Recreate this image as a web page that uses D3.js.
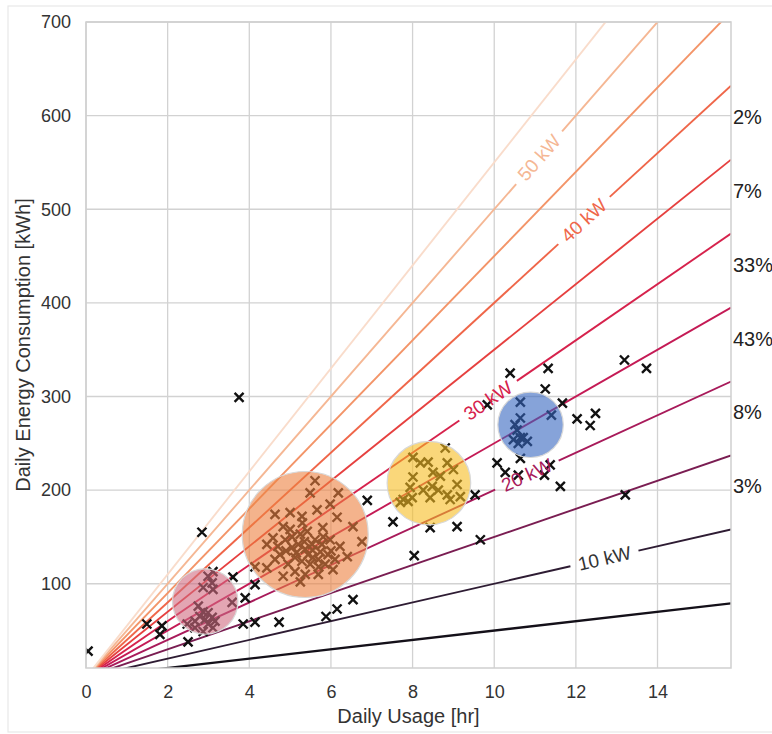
<!DOCTYPE html>
<html><head><meta charset="utf-8">
<script src="https://cdn.jsdelivr.net/npm/d3@7"></script>
<style>body{margin:0;background:#fff} svg{display:block}</style>
</head><body>
<script>
// ---- data ----
const powerLevels = [5,10,15,20,25,30,35,40,45,50,55];
const lineColors  = ["#141019","#2e1c33","#7a1d52","#a81a5a","#c41a55","#d6224c","#e6403f","#ef6649","#f39468","#f5b794","#f9dccb"];
const labeledLevels = [10,20,30,40,50];
const labelHours    = [12.7,10.8,9.85,12.2,11.1];
const shareLabels = ["2%","7%","33%","43%","8%","3%"];
const shareBands  = [[35,40],[30,35],[25,30],[20,25],[15,20],[10,15]];
const xTicks = [0,2,4,6,8,10,12,14];
const yTicks = [100,200,300,400,500,600,700];

const usage = [
 0.05,1.49,1.86,1.81,2.50,2.84,3.75,3.60,3.90,3.85,4.14,4.14,4.73,5.88,6.15,6.54,6.89,7.52,8.04,8.43,9.09,9.53,9.66,10.07,10.27,10.59,10.64,11.23,11.37,11.62,13.21,10.39,11.32,13.19,13.73,9.83,11.25,11.67,12.03,12.48,12.35,
 2.99,3.09,2.87,3.11,3.58,2.75,2.87,2.99,2.79,3.09,2.92,2.67,2.99,2.48,2.67,3.11,2.87,3.16,3.11,
 5.61,6.18,5.49,4.63,5.00,5.29,5.66,5.98,6.15,6.54,6.76,4.58,4.43,4.83,5.42,5.81,6.22,6.40,4.14,4.43,4.83,5.25,5.69,6.05,5.56,4.88,5.05,5.20,5.37,5.54,5.74,5.93,5.12,5.29,5.49,5.69,5.86,4.95,4.75,5.25,5.61,5.98,5.00,4.63,6.10,5.37,5.12,5.78,5.44,5.15,5.55,5.35,5.70,5.05,4.90,5.80,5.30,4.70,6.00,
 8.80,8.01,8.19,8.38,8.85,8.50,8.68,9.00,8.48,8.63,7.94,8.26,9.09,8.85,8.92,7.77,7.89,7.70,7.99,9.17,8.43,8.01,
 10.64,10.64,11.40,10.56,10.64,10.47,10.71,10.81,10.59,10.51
];
const energy = [
 28,57,55,46,38,155,299,107,85,57,59,99,59,65,73,83,189,166,130,160,161,195,147,229,219,216,234,216,227,204,195,325,330,339,330,291,308,293,276,282,269,
 108,101,96,94,80,76,70,69,65,64,62,60,57,57,53,53,49,60,113,
 210,197,197,174,176,172,179,185,171,161,145,149,142,161,156,150,140,129,118,117,108,102,110,115,128,147,139,142,137,142,134,131,128,124,121,126,121,121,131,153,147,147,158,126,126,110,113,142,131,133,136,145,118,150,135,160,165,140,135,
 245,235,229,230,229,219,215,222,204,200,203,200,206,195,190,190,188,187,192,193,192,214,
 294,277,280,264,256,254,256,252,250,270
];

const clusterUsage  = [2.92,5.37,8.40,10.89];
const clusterEnergy = [81,152.6,207.5,269.8];
const clusterWeight = [27,100,44,27];
const clusterColors = ["#d06a80","#ec8040","#f7bd22","#3566c0"];

// ---- layout ----
const W = 772, H = 734;
const font = "'Liberation Sans', Arial, sans-serif";
const svg = d3.select("body").append("svg").attr("width", W).attr("height", H);

svg.append("rect").attr("x",8).attr("y",6).attr("width",780).attr("height",726)
  .attr("fill","none").attr("stroke","#e8e8e8").attr("stroke-width",1.2);

const x = d3.scaleLinear().domain([0,15.8]).range([86,731]);
const y = d3.scaleLinear().domain([10,700]).range([668,22]);
const r = d3.scaleSqrt().domain([0,100]).range([0,63]);

svg.append("defs").append("clipPath").attr("id","plotclip")
  .append("rect").attr("x",x(0)).attr("y",y(700)).attr("width",x(15.8)-x(0)).attr("height",y(10)-y(700));

// grid
const grid = svg.append("g");
grid.selectAll(".gx").data(xTicks).join("line")
  .attr("x1",d=>x(d)).attr("x2",d=>x(d)).attr("y1",y(10)).attr("y2",y(700))
  .attr("stroke","#d2d2d2").attr("stroke-width",1.3);
grid.selectAll(".gy").data(yTicks).join("line")
  .attr("x1",x(0)).attr("x2",x(15.8)).attr("y1",d=>y(d)).attr("y2",d=>y(d))
  .attr("stroke","#d2d2d2").attr("stroke-width",1.3);

// axes via d3 axis
const xAxis = svg.append("g").attr("transform",`translate(0,${y(10)})`)
  .call(d3.axisBottom(x).tickValues(xTicks).tickSize(0).tickPadding(17).tickFormat(d3.format("d")));
const yAxis = svg.append("g").attr("transform",`translate(${x(0)},0)`)
  .call(d3.axisLeft(y).tickValues(yTicks).tickSize(0).tickPadding(15).tickFormat(d3.format("d")));
[xAxis,yAxis].forEach(a=>{
  a.select(".domain").remove();
  a.selectAll("text").attr("font-family",font).attr("font-size",18).attr("fill","#333");
});

// power lines
const plot = svg.append("g").attr("clip-path","url(#plotclip)");
const lineGen = d3.line().x(d=>x(d[0])).y(d=>y(d[1]));
const labelLayer = svg.append("g");

powerLevels.forEach((P,i)=>{
  const col = lineColors[i];
  const li = labeledLevels.indexOf(P);
  const t0 = 0, t1 = 15.8;
  const sw = P===5 ? 2.3 : 1.9;
  if (li < 0) {
    plot.append("path").attr("d",lineGen([[t0,P*t0],[t1,P*t1]]))
      .attr("fill","none").attr("stroke",col).attr("stroke-width",sw);
    return;
  }
  const tl = labelHours[li];
  const px = x(tl), py = y(P*tl);
  const dx = x(1)-x(0), dy = y(P)-y(0);
  const ang = Math.atan2(dy,dx)*180/Math.PI;
  const lbl = labelLayer.append("text").text(P+" kW")
    .attr("font-family",font).attr("font-size",19).attr("fill",P===10?"#333":col)
    .attr("text-anchor","middle").attr("dominant-baseline","central")
    .attr("transform",`translate(${px},${py}) rotate(${ang})`);
  const half = lbl.node().getComputedTextLength()/2 + 8;
  const perT = Math.hypot(dx,dy);
  const dt = half/perT;
  plot.append("path").attr("d",lineGen([[t0,P*t0],[tl-dt,P*(tl-dt)]]))
    .attr("fill","none").attr("stroke",col).attr("stroke-width",sw);
  plot.append("path").attr("d",lineGen([[tl+dt,P*(tl+dt)],[t1,P*t1]]))
    .attr("fill","none").attr("stroke",col).attr("stroke-width",sw);
});

// markers
const s = 4.5;
plot.selectAll(".mk").data(usage.map((u,i)=>[u,energy[i]])).join("path")
  .attr("d",d=>{const cx=x(d[0]), cy=y(d[1]);
    return `M${cx-s},${cy-s}L${cx+s},${cy+s}M${cx-s},${cy+s}L${cx+s},${cy-s}`;})
  .attr("stroke","#111").attr("stroke-width",2.4).attr("fill","none");

// cluster circles
plot.selectAll(".cl").data(clusterUsage.map((u,i)=>i)).join("circle")
  .attr("cx",i=>x(clusterUsage[i])).attr("cy",i=>y(clusterEnergy[i]))
  .attr("r",i=>r(clusterWeight[i]))
  .attr("fill",i=>clusterColors[i]).attr("fill-opacity",0.6)
  .attr("stroke","#d8d8d8").attr("stroke-width",1.2);

labelLayer.raise();

// frame
svg.append("rect").attr("x",x(0)).attr("y",y(700)).attr("width",x(15.8)-x(0)).attr("height",y(10)-y(700))
  .attr("fill","none").attr("stroke","#cfcfcf").attr("stroke-width",1.5);

// share labels
svg.selectAll(".sh").data(shareLabels).join("text")
  .text(d=>d).attr("x",733)
  .attr("y",(d,i)=>y(15.8*(shareBands[i][0]+shareBands[i][1])/2)-6)
  .attr("dominant-baseline","central")
  .attr("font-family",font).attr("font-size",20).attr("fill","#222");

// axis labels
svg.append("text").text("Daily Usage [hr]")
  .attr("x",(x(0)+x(15.8))/2).attr("y",723).attr("text-anchor","middle")
  .attr("font-family",font).attr("font-size",20).attr("fill","#333");
svg.append("text").text("Daily Energy Consumption [kWh]")
  .attr("transform",`translate(30,${(y(10)+y(700))/2}) rotate(-90)`).attr("text-anchor","middle")
  .attr("font-family",font).attr("font-size",20).attr("fill","#333");
</script>
</body></html>
